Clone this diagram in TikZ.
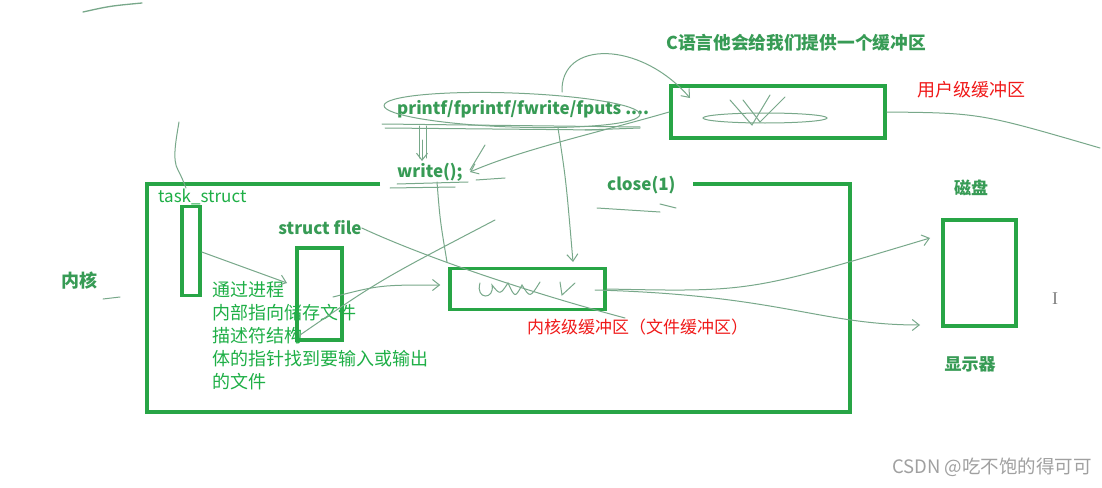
\documentclass[tikz,border=0pt]{standalone}
\usepackage{fontspec}
\setmainfont{Noto Sans CJK SC}
\newfontfamily\serifI{Liberation Serif}
\usetikzlibrary{arrows.meta,calc}
\definecolor{boxg}{RGB}{40,165,70}
\definecolor{handg}{RGB}{55,155,85}
\definecolor{strk}{RGB}{120,168,138}
\definecolor{typg}{RGB}{30,175,70}
\definecolor{redt}{RGB}{240,25,25}
\definecolor{wmark}{RGB}{160,160,160}
\begin{document}
\begin{tikzpicture}[x=1pt,y=-1pt,
  box/.style={draw=boxg,line width=3.5pt,inner sep=0pt},
  hand/.style={text=handg,font=\fontsize{17}{20}\selectfont\bfseries,inner sep=0pt},
  typed/.style={text=typg,font=\fontsize{18}{23}\selectfont,inner sep=0pt},
  redlbl/.style={text=redt,font=\fontsize{17}{20}\selectfont,inner sep=0pt},
  stroke/.style={draw=strk,line width=1pt,line cap=round},
  sarrow/.style={stroke,-{Straight Barb[length=7pt,width=11pt]}}
]
\useasboundingbox[fill=white] (0,0) rectangle (1102,487);

% kernel frame (open at top for write(); and close(1))
\coordinate (kA) at (380,184);
\coordinate (kB) at (693,184);
\draw[boxg,line width=3.5pt] (kA) -- (147,184) -- (147,412) -- (850,412) -- (850,184) -- (kB);

% boxes
\node[box,minimum width=18pt,minimum height=89pt] (task) at (191,251) {};
\node[box,minimum width=45pt,minimum height=92pt] (sfile) at (319.5,294) {};
\node[box,minimum width=155pt,minimum height=41pt] (kbuf) at (527.5,289) {};
\node[box,minimum width=214pt,minimum height=52pt] (ubuf) at (778,112) {};
\node[box,minimum width=73pt,minimum height=106pt] (disk) at (979.5,273) {};

% labels
\node[hand,font=\fontsize{17.7}{20}\selectfont\bfseries] (clang) at (796,43) {C语言他会给我们提供一个缓冲区};
\node[redlbl,font=\fontsize{18}{20}\selectfont] (ulbl) at (971,90) {用户级缓冲区};
\node[hand,anchor=west] (printf) at (397,109) {printf/fprintf/fwrite/fputs ....};
\node[hand,anchor=west] (write) at (397,172) {write();};
\node[hand,anchor=west] (close) at (607,185) {close(1)};
\node[typed,font=\fontsize{17}{20}\selectfont,anchor=west] (tlbl) at (158,197) {task\_struct};
\node[hand] (sflbl) at (320,228) {struct file};
\node[typed,anchor=north west,align=left] (desc) at (212,281) {通过进程\\内部指向储存文件\\描述符结构\\体的指针找到要输入或输出\\的文件};
\node[hand,font=\fontsize{18}{20}\selectfont\bfseries] (kern) at (79,281) {内核};
\node[redlbl,anchor=west] (klbl) at (527,327) {内核级缓冲区（文件缓冲区）};
\node[hand] (disklbl) at (971,188) {磁盘};
\node[hand] (mon) at (970,364) {显示器};
\node[text=gray,font=\serifI\fontsize{18}{18}\selectfont,inner sep=0pt] (cursor) at (1055,299) {I};
\node[text=wmark,font=\fontsize{18.5}{20}\selectfont,anchor=east,inner sep=0pt] (wm) at (1092,467) {CSDN @吃不饱的得可可};

% free hand strokes
\draw[stroke,line width=1.3pt] (83,12) .. controls (110,6) .. (142,3);
\draw[stroke] (179,122) .. controls (176,140) and (172,160) .. (178,170) .. controls (182,178) .. (186,188);
\draw[stroke] (103,299) -- (120,297);
\draw[stroke,rotate around={-2:(512,110)}] (512,110) ellipse (128pt and 17pt);
\draw[stroke] (382,124) -- (640,127);
\draw[stroke] (385,128) -- (600,130);
\draw[sarrow] (562,92) .. controls (560,40) and (640,40) .. (690,98);
% user buffer scribbles
\draw[stroke] (765,118) ellipse (62pt and 5pt);
\draw[stroke] (730,100) -- (752,125) -- (770,95);
\draw[stroke] (743,100) -- (760,122) -- (785,97);
% user buffer -> write
\draw[sarrow] (ubuf.west) .. controls (600,132) and (520,150) .. (470,172);
\draw[stroke] (585,130) -- (640,128);
\draw[stroke] (485,145) -- (470,170);
% printf -> write
\draw[stroke] (419,126) -- (419,158);
\draw[stroke] (426,126) -- (426,158);
\coordinate (wtop) at (422,161);
\draw[sarrow] (422,140) -- (wtop);
\draw[stroke] (397,184) -- (468,182);
\draw[stroke] (390,188) -- (455,187);
\draw[stroke] (476,180) -- (505,178);
% write -> down
\draw[stroke] (437,182) .. controls (440,220) .. (447,262);
% printf -> kernel buffer
\coordinate (kbtop) at (573,262);
\draw[sarrow] (558,128) .. controls (566,180) .. (kbtop);
% close underline
\draw[stroke] (597,208) -- (660,212);
\draw[stroke] (660,204) -- (676,208);
% task -> struct file
\coordinate (tsEnd) at (287,283);
\draw[sarrow] ($(task.east)+(0,1)$) -- (tsEnd);
% struct file -> kernel buffer
\draw[sarrow] (333,297) .. controls (380,285) .. ($(kbuf.west)+(-8,-4)$);
% long diagonal from struct file label
\draw[stroke] (sflbl.east) .. controls (420,255) and (520,290) .. (625,318);
% struct file bottom up
\draw[stroke] (300,335) .. controls (380,280) .. (495,220);
% kernel buffer scribbles
\draw[stroke] (480,283) .. controls (475,300) and (495,300) .. (492,285) .. controls (500,295) .. (508,283) .. controls (515,298) .. (522,285) .. controls (530,298) .. (540,282);
\draw[stroke] (560,282) -- (562,295) -- (575,283);
% kernel buffer -> disk / monitor
\coordinate (toDisk) at (930,238);
\coordinate (toMon) at (920,325);
\draw[sarrow] (kbuf.east) .. controls (750,292) .. (toDisk);
\draw[sarrow] (595,290) .. controls (780,295) and (820,325) .. (toMon);
% user buffer -> right
\draw[stroke] (ubuf.east) .. controls (980,113) .. (1100,148);
\end{tikzpicture}
\end{document}
